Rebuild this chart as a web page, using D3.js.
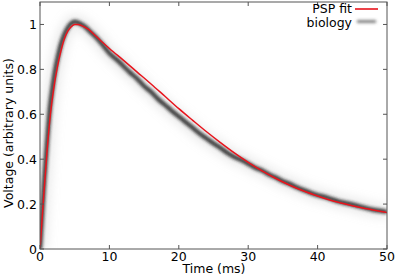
<!DOCTYPE html>
<html>
<head>
<meta charset="utf-8">
<script src="https://cdn.jsdelivr.net/npm/d3@7"></script>
<style>
  body { margin: 0; background: #fff; }
  text { font-family: "DejaVu Sans", sans-serif; fill: #000; }
</style>
</head>
<body>
<div id="chart"></div>
<script>
// PSP fit curve (time in ms, voltage in arbitrary units)
var fitTime = [0, 0.5, 1, 1.5, 2, 2.5, 3, 3.5, 4, 4.5, 5, 5.5, 6, 7, 8, 9, 10, 12, 14, 16, 18, 20, 22, 24, 26, 28, 30, 32, 34, 36, 38, 40, 42, 44, 46, 48, 50];
var fitVolt = [0, 0.22, 0.43, 0.6, 0.72, 0.81, 0.88, 0.935, 0.97, 0.99, 1.0, 1.0, 0.995, 0.978, 0.95, 0.921, 0.893, 0.841, 0.788, 0.735, 0.68, 0.625, 0.573, 0.522, 0.474, 0.428, 0.386, 0.348, 0.314, 0.284, 0.258, 0.236, 0.216, 0.2, 0.186, 0.174, 0.163];

var bioTime = [0, 0.3, 0.6, 1, 1.4, 1.8, 2.2, 2.6, 3, 3.5, 4, 4.5, 5, 5.5, 6, 6.5, 7, 8, 9, 10, 11, 12, 13, 14, 15, 16, 17, 18, 19, 20, 21, 22, 23, 24, 25, 26, 27, 28, 29, 30, 31, 32, 33, 34, 35, 36, 37, 38, 39, 40, 41, 42, 43, 44, 45, 46, 47, 48, 49, 50];
var bioVolt = [0, 0.15, 0.3, 0.47, 0.62, 0.72, 0.8, 0.86, 0.91, 0.955, 0.985, 1.005, 1.012, 1.008, 1.0, 0.99, 0.975, 0.945, 0.91, 0.872, 0.845, 0.815, 0.785, 0.758, 0.725, 0.7, 0.668, 0.642, 0.615, 0.59, 0.565, 0.54, 0.514, 0.492, 0.47, 0.45, 0.428, 0.41, 0.396, 0.38, 0.362, 0.35, 0.332, 0.318, 0.302, 0.29, 0.275, 0.262, 0.25, 0.24, 0.232, 0.222, 0.212, 0.205, 0.198, 0.19, 0.182, 0.175, 0.17, 0.166];

var xTicks = [0, 10, 20, 30, 40, 50];
var yTicks = [0, 0.2, 0.4, 0.6, 0.8, 1];
var yTickLabels = ["0", "0.2", "0.4", "0.6", "0.8", "1"];

var fitData = fitTime.map(function(t, i) { return {t: t, v: fitVolt[i]}; });
var bioData = bioTime.map(function(t, i) { return {t: t, v: bioVolt[i]}; });

var W = 397, H = 277;
var margin = {top: 2, right: 10, bottom: 28, left: 40},
    width = W - margin.left - margin.right,
    height = H - margin.top - margin.bottom;

var x = d3.scaleLinear().domain([0, 50]).range([0, width]);
var y = d3.scaleLinear().domain([0, 1.1]).range([height, 0]);

var svg = d3.select("#chart").append("svg")
    .attr("width", W)
    .attr("height", H);

var defs = svg.append("defs");
defs.append("filter").attr("id", "blur")
    .attr("filterUnits", "userSpaceOnUse")
    .attr("x", -20).attr("y", -20).attr("width", W + 40).attr("height", H + 40)
    .append("feGaussianBlur").attr("stdDeviation", 1.6);
defs.append("filter").attr("id", "haze")
    .attr("filterUnits", "userSpaceOnUse")
    .attr("x", -20).attr("y", -20).attr("width", W + 40).attr("height", H + 40)
    .append("feGaussianBlur").attr("stdDeviation", 4);
defs.append("clipPath").attr("id", "clip")
    .append("rect").attr("width", width).attr("height", height);

var g = svg.append("g")
    .attr("transform", "translate(" + margin.left + "," + margin.top + ")");

var line = d3.line()
    .x(function(d) { return x(d.t); })
    .y(function(d) { return y(d.v); })
    .curve(d3.curveMonotoneX);

var plot = g.append("g").attr("clip-path", "url(#clip)");

// faint haze of individual trials
plot.append("path")
    .datum(bioData)
    .attr("d", line)
    .attr("fill", "none")
    .attr("stroke", "#bbb")
    .attr("stroke-opacity", 0.25)
    .attr("stroke-width", 16)
    .attr("filter", "url(#haze)");

// biology band
plot.append("path")
    .datum(bioData)
    .attr("d", line)
    .attr("fill", "none")
    .attr("stroke", "#222")
    .attr("stroke-width", 4.5)
    .attr("stroke-opacity", 0.85)
    .attr("filter", "url(#blur)");

// PSP fit
plot.append("path")
    .datum(fitData)
    .attr("d", line)
    .attr("fill", "none")
    .attr("stroke", "#e8141c")
    .attr("stroke-width", 1.5);

// frame
g.append("rect")
    .attr("width", width)
    .attr("height", height)
    .attr("fill", "none")
    .attr("stroke", "#555")
    .attr("stroke-width", 1);

// inward ticks on all four sides
var tl = 4;
xTicks.forEach(function(t) {
    g.append("line").attr("x1", x(t)).attr("x2", x(t)).attr("y1", height).attr("y2", height - tl).attr("stroke", "#555");
    g.append("line").attr("x1", x(t)).attr("x2", x(t)).attr("y1", 0).attr("y2", tl).attr("stroke", "#555");
    g.append("text")
        .attr("x", x(t))
        .attr("y", height + 12)
        .attr("text-anchor", "middle")
        .style("font-size", "12.5px")
        .text(t);
});
yTicks.forEach(function(v, i) {
    g.append("line").attr("x1", 0).attr("x2", tl).attr("y1", y(v)).attr("y2", y(v)).attr("stroke", "#555");
    g.append("line").attr("x1", width).attr("x2", width - tl).attr("y1", y(v)).attr("y2", y(v)).attr("stroke", "#555");
    g.append("text")
        .attr("x", -3)
        .attr("y", y(v) + 4.5)
        .attr("text-anchor", "end")
        .style("font-size", "12.5px")
        .text(yTickLabels[i]);
});

// axis titles
svg.append("text")
    .attr("x", 214)
    .attr("y", 273)
    .attr("text-anchor", "middle")
    .style("font-size", "12.5px")
    .text("Time (ms)");

svg.append("text")
    .attr("transform", "translate(13,133) rotate(-90)")
    .attr("text-anchor", "middle")
    .style("font-size", "12.5px")
    .text("Voltage (arbitrary units)");

// legend
var legend = svg.append("g");
legend.append("text").attr("x", 352).attr("y", 13).attr("text-anchor", "end").style("font-size", "12.5px").text("PSP fit");
legend.append("line").attr("x1", 355).attr("x2", 378).attr("y1", 9).attr("y2", 9)
    .attr("stroke", "#e8141c").attr("stroke-width", 1.6);
legend.append("text").attr("x", 352).attr("y", 27).attr("text-anchor", "end").style("font-size", "12.5px").text("biology");
legend.append("line").attr("x1", 357).attr("x2", 376).attr("y1", 21.5).attr("y2", 21.5)
    .attr("stroke", "#444").attr("stroke-width", 2.5).attr("stroke-opacity", 0.8)
    .attr("filter", "url(#blur)");
</script>
</body>
</html>
